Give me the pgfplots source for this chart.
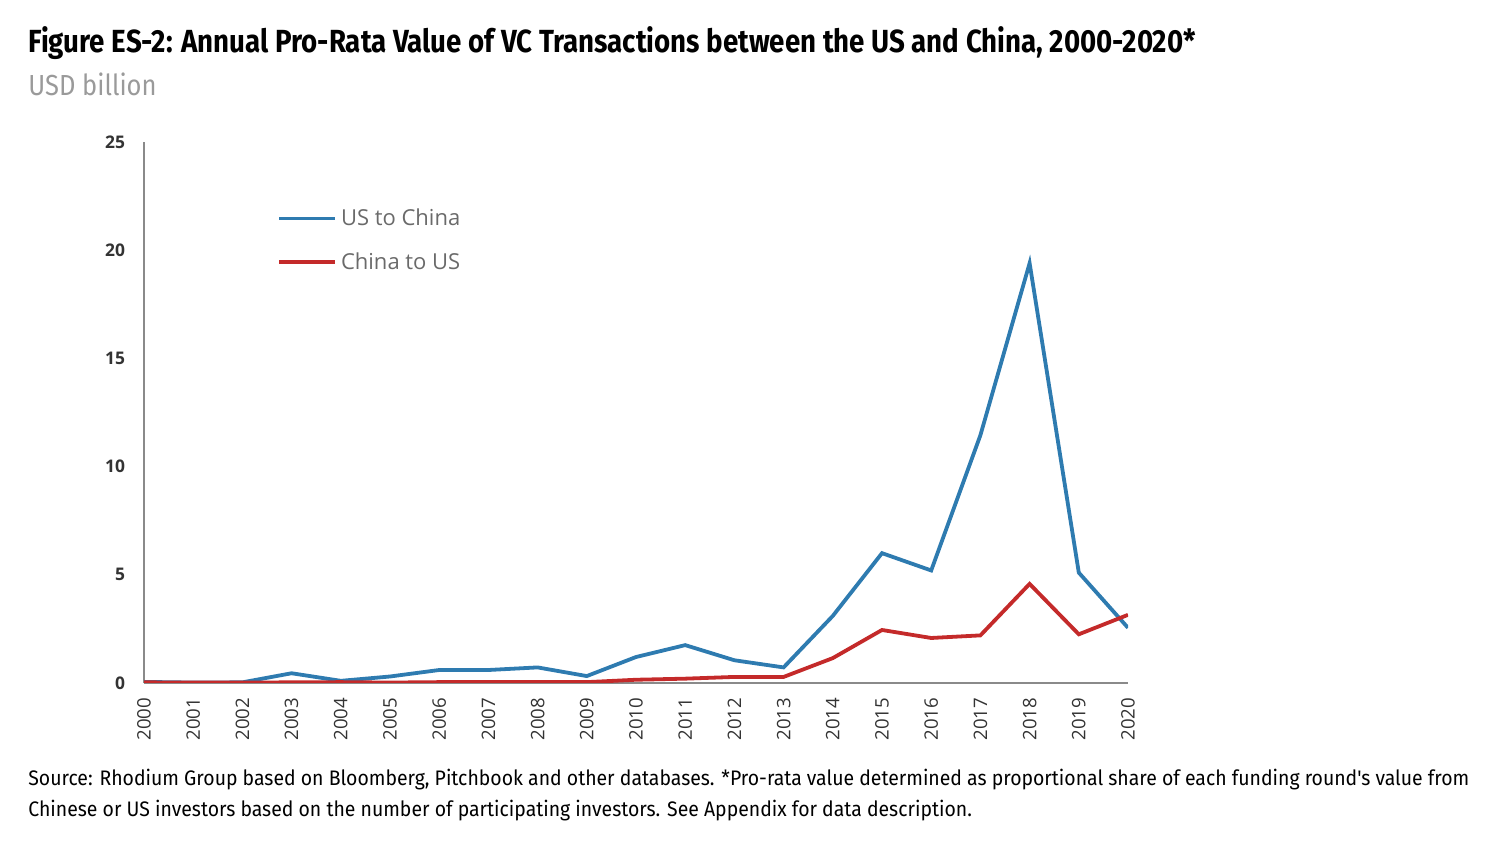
\documentclass[border=0pt]{standalone}
\usepackage{fontspec}
\setmainfont{Open Sans}
\newfontfamily\titlefont[FakeStretch=0.865]{Fira Sans}
\newfontfamily\subfont[FakeStretch=0.88]{Fira Sans}
\newfontfamily\srcfont[FakeStretch=0.925]{Fira Sans}
\usepackage{pgfplots}
\pgfplotsset{compat=1.18}
\definecolor{usblue}{HTML}{2E7BB0}
\definecolor{cnred}{HTML}{C42A2A}
\definecolor{axgrey}{HTML}{8A8A8A}
\definecolor{txtgrey}{HTML}{333333}
\definecolor{subgrey}{HTML}{9A9A9A}
\definecolor{leggrey}{HTML}{6A6A6A}
\begin{document}
\begin{tikzpicture}
\path[use as bounding box] (0,0) rectangle (749pt,422pt);
\node[anchor=base west,inner sep=0pt,font=\titlefont\bfseries\fontsize{16}{18}\selectfont] at (14pt,395.5pt) {Figure ES-2: Annual Pro-Rata Value of VC Transactions between the US and China, 2000-2020*};
\node[anchor=base west,inner sep=0pt,text=subgrey,font=\subfont\fontsize{14.5}{16}\selectfont] at (14pt,374pt) {USD billion};
\node[anchor=base west,inner sep=0pt,font=\srcfont\fontsize{10.5}{12}\selectfont] at (14pt,29pt) {Source: Rhodium Group based on Bloomberg, Pitchbook and other databases. *Pro-rata value determined as proportional share of each funding round's value from};
\node[anchor=base west,inner sep=0pt,font=\srcfont\fontsize{10.5}{12}\selectfont] at (14pt,13.5pt) {Chinese or US investors based on the number of participating investors. See Appendix for data description.};
\begin{axis}[
  at={(72pt,80.5pt)}, anchor=south west,
  scale only axis, width=492pt, height=270.5pt,
  xmin=2000, xmax=2020, ymin=0, ymax=25,
  axis x line=bottom, axis y line=left,
  axis line style={axgrey, line width=0.8pt, -},
  xtick={2000,2001,...,2020},
  ytick={0,5,10,15,20,25},
  major tick length=0pt,
  x tick label style={rotate=90, anchor=east, font=\fontsize{9.3}{10}\selectfont, text=txtgrey, xshift=-4pt, /pgf/number format/1000 sep={}},
  y tick label style={font=\bfseries\fontsize{8.7}{10}\selectfont, text=txtgrey, xshift=-6pt},
  /pgf/number format/assume math mode=true,
  legend style={at={(0.135,0.885)}, anchor=north west, draw=none, fill=none,
    font=\fontsize{11}{13}\selectfont, text=leggrey, row sep=8pt, inner sep=0pt},
  legend cell align=left,
  legend image code/.code={\draw[#1] (0pt,0pt) -- (28pt,0pt);},
]
\addplot[usblue, line width=1.9pt] coordinates {
(2000,0.05) (2001,0.02) (2002,0.03) (2003,0.45) (2004,0.1) (2005,0.3) (2006,0.6)
(2007,0.6) (2008,0.72) (2009,0.32) (2010,1.2) (2011,1.75) (2012,1.05) (2013,0.72)
(2014,3.1) (2015,6.0) (2016,5.2) (2017,11.45) (2018,19.4) (2019,5.1) (2020,2.55)};
\addlegendentry{US to China}
\addplot[cnred, line width=1.9pt] coordinates {
(2000,0.03) (2001,0.02) (2002,0.02) (2003,0.03) (2004,0.04) (2005,0.02) (2006,0.04)
(2007,0.04) (2008,0.04) (2009,0.04) (2010,0.15) (2011,0.2) (2012,0.28) (2013,0.28)
(2014,1.15) (2015,2.45) (2016,2.08) (2017,2.2) (2018,4.58) (2019,2.25) (2020,3.15)};
\addlegendentry{China to US}
\end{axis}
\end{tikzpicture}
\end{document}
